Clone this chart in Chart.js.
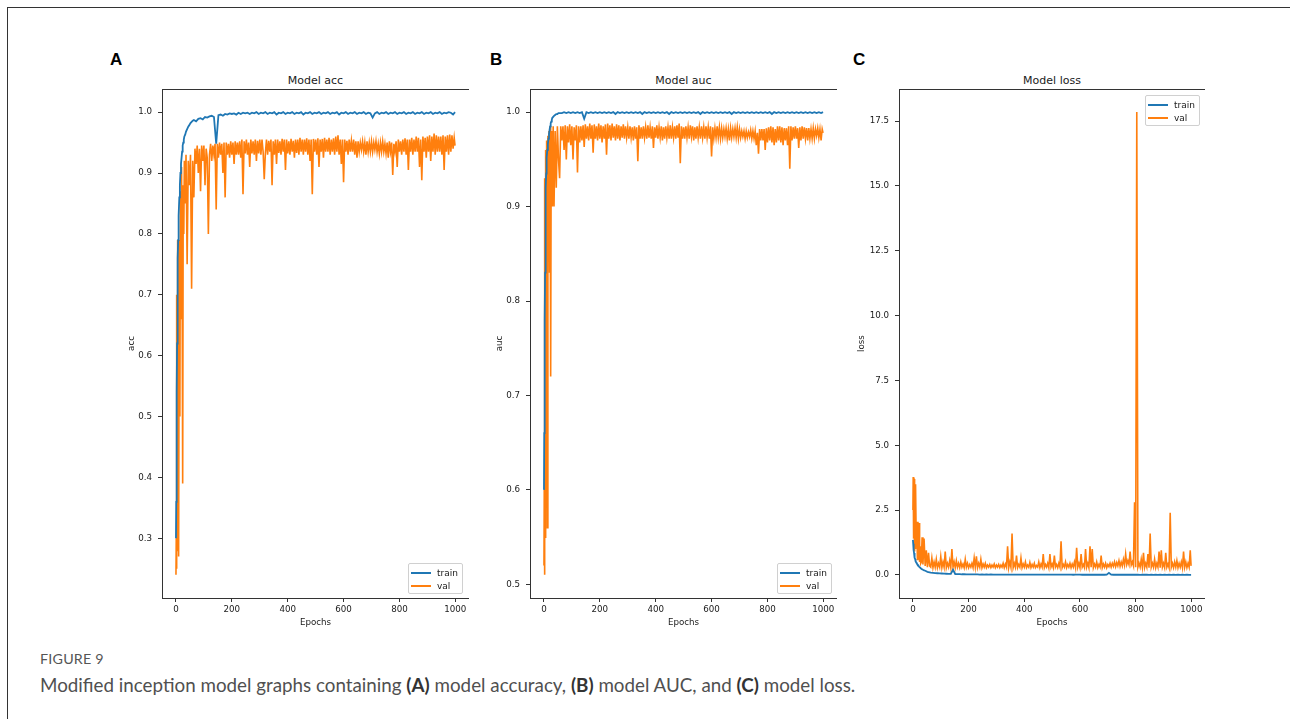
<!DOCTYPE html>
<html>
<head>
<meta charset="utf-8">
<script src="https://cdn.jsdelivr.net/npm/chart.js@4.4.1/dist/chart.umd.min.js"></script>
<style>
  html, body { margin: 0; padding: 0; background: #fff; }
  body { width: 1290px; height: 719px; position: relative; overflow: hidden; }
  .frame { position: absolute; left: 7px; top: 7px; width: 1290px; height: 720px; border-top: 1px solid #333; border-left: 1px solid #333; }
  .panel { position: absolute; top: 89px; height: 541px; }
  .letter { position: absolute; top: 51px; font: bold 17px "Liberation Sans", Arial, sans-serif; line-height: 17px; color: #000; }
  .title { position: absolute; top: 74px; height: 14px; line-height: 14px; text-align: center; font: 11px "DejaVu Sans", sans-serif; color: #1a1a1a; }
  .legend { position: absolute; width: 55px; height: 31px; box-sizing: border-box; border: 1px solid #d0d0d0; border-radius: 2px; background: rgba(255,255,255,0.85); font: 9px "DejaVu Sans", sans-serif; color: #1a1a1a; padding: 2px 0 0 2px; }
  .legend .row { height: 13.3px; display: flex; align-items: center; }
  .legend .sw { display: inline-block; width: 20px; height: 2px; margin-right: 6px; }
  .fig { position: absolute; left: 40px; top: 650px; font: 14.3px Lato, "Open Sans", sans-serif; color: #555; letter-spacing: 0.2px; }
  .caption { position: absolute; left: 40px; top: 673px; font: 18.8px Lato, "Open Sans", sans-serif; color: #505050; }
  .caption b { color: #333; }
</style>
</head>
<body>
<div class="frame"></div>

<div class="letter" style="left:110px">A</div>
<div class="letter" style="left:490px">B</div>
<div class="letter" style="left:853px">C</div>

<div class="title" style="left:162px;width:307px">Model acc</div>
<div class="title" style="left:530px;width:307px">Model auc</div>
<div class="title" style="left:899px;width:306px">Model loss</div>

<div class="panel" style="left:100px;width:369px"><canvas id="accChart"></canvas></div>
<div class="panel" style="left:468px;width:369px"><canvas id="aucChart"></canvas></div>
<div class="panel" style="left:837px;width:368px"><canvas id="lossChart"></canvas></div>

<div class="legend" style="left:408px;top:563px">
  <div class="row"><span class="sw" style="background:#1f77b4"></span>train</div>
  <div class="row"><span class="sw" style="background:#ff7f0e"></span>val</div>
</div>
<div class="legend" style="left:777px;top:563px">
  <div class="row"><span class="sw" style="background:#1f77b4"></span>train</div>
  <div class="row"><span class="sw" style="background:#ff7f0e"></span>val</div>
</div>
<div class="legend" style="left:1145px;top:95px">
  <div class="row"><span class="sw" style="background:#1f77b4"></span>train</div>
  <div class="row"><span class="sw" style="background:#ff7f0e"></span>val</div>
</div>

<div class="fig">FIGURE 9</div>
<div class="caption">Modified inception model graphs containing <b>(A)</b> model accuracy, <b>(B)</b> model AUC, and <b>(C)</b> model loss.</div>

<script>
// train curves: dense at the start, every 8 epochs after
const trainEpochs = [
  0, 1, 2, 3, 4, 5, 6, 7, 8, 9, 10,
  12, 14, 16, 18, 20, 22, 24, 26, 28, 30,
  33, 36, 40, 44, 48, 52, 56, 60,
  64, 72, 80, 88, 96, 104, 112, 120, 128, 136,
  144, 152, 160, 168, 176, 184, 192, 200, 208, 216,
  224, 232, 240, 248, 256, 264, 272, 280, 288, 296,
  304, 312, 320, 328, 336, 344, 352, 360, 368, 376,
  384, 392, 400, 408, 416, 424, 432, 440, 448, 456,
  464, 472, 480, 488, 496, 504, 512, 520, 528, 536,
  544, 552, 560, 568, 576, 584, 592, 600, 608, 616,
  624, 632, 640, 648, 656, 664, 672, 680, 688, 696,
  704, 712, 720, 728, 736, 744, 752, 760, 768, 776,
  784, 792, 800, 808, 816, 824, 832, 840, 848, 856,
  864, 872, 880, 888, 896, 904, 912, 920, 928, 936,
  944, 952, 960, 968, 976, 984, 992, 999
];

// val curves are noisier: every 4 epochs after the start
const valEpochs = [
  0, 1, 2, 3, 4, 5, 6, 7, 8, 9, 10,
  12, 14, 16, 18, 20, 22, 24, 26, 28, 30,
  33, 36, 40, 44, 48, 52, 56, 60,
  64, 68, 72, 76, 80, 84, 88, 92, 96, 100, 104, 108, 112, 116, 120, 124, 128, 132, 136, 140,
  144, 148, 152, 156, 160, 164, 168, 172, 176, 180, 184, 188, 192, 196, 200, 204, 208, 212, 216, 220,
  224, 228, 232, 236, 240, 244, 248, 252, 256, 260, 264, 268, 272, 276, 280, 284, 288, 292, 296, 300,
  304, 308, 312, 316, 320, 324, 328, 332, 336, 340, 344, 348, 352, 356, 360, 364, 368, 372, 376, 380,
  384, 388, 392, 396, 400, 404, 408, 412, 416, 420, 424, 428, 432, 436, 440, 444, 448, 452, 456, 460,
  464, 468, 472, 476, 480, 484, 488, 492, 496, 500, 504, 508, 512, 516, 520, 524, 528, 532, 536, 540,
  544, 548, 552, 556, 560, 564, 568, 572, 576, 580, 584, 588, 592, 596, 600, 604, 608, 612, 616, 620,
  624, 628, 632, 636, 640, 644, 648, 652, 656, 660, 664, 668, 672, 676, 680, 684, 688, 692, 696, 700,
  704, 708, 712, 716, 720, 724, 728, 732, 736, 740, 744, 748, 752, 756, 760, 764, 768, 772, 776, 780,
  784, 788, 792, 796, 800, 804, 808, 812, 816, 820, 824, 828, 832, 836, 840, 844, 848, 852, 856, 860,
  864, 868, 872, 876, 880, 884, 888, 892, 896, 900, 904, 908, 912, 916, 920, 924, 928, 932, 936, 940,
  944, 948, 952, 956, 960, 964, 968, 972, 976, 980, 984, 988, 992, 996, 999
];

const accTrain = [
  0.30, 0.36, 0.45, 0.54, 0.62, 0.68, 0.73, 0.76, 0.79, 0.81, 0.83,
  0.86, 0.88, 0.90, 0.915, 0.925, 0.935, 0.945, 0.95, 0.955, 0.96,
  0.963, 0.968, 0.972, 0.976, 0.979, 0.982, 0.984, 0.986,
  0.987, 0.985, 0.989, 0.99, 0.988, 0.992, 0.991, 0.993, 0.994, 0.992,
  0.948, 0.995, 0.996, 0.994, 0.997, 0.996, 0.998, 0.997, 0.998, 0.996,
  0.999, 0.997, 0.999, 0.998, 0.999, 0.997, 0.999, 0.998, 1.0, 0.997,
  0.999, 0.998, 1.0, 0.997, 0.999, 0.998, 1.0, 0.996, 0.999, 0.998,
  1.0, 0.997, 0.999, 0.998, 1.0, 0.997, 0.999, 0.998, 1.0, 0.996,
  0.999, 0.998, 1.0, 0.997, 0.999, 0.998, 1.0, 0.997, 0.999, 0.998,
  1.0, 0.997, 0.999, 0.998, 1.0, 0.996, 0.999, 0.998, 1.0, 0.997,
  0.999, 0.998, 1.0, 0.997, 0.999, 0.998, 1.0, 0.997, 0.999, 0.998,
  0.991, 0.998, 1.0, 0.997, 0.999, 0.998, 1.0, 0.997, 0.999, 0.998,
  1.0, 0.997, 0.999, 0.998, 1.0, 0.997, 0.999, 0.998, 1.0, 0.997,
  0.999, 0.998, 1.0, 0.997, 0.999, 0.998, 1.0, 0.997, 0.999, 0.998,
  1.0, 0.997, 0.999, 0.998, 1.0, 0.999, 0.996, 1.0
];
const accVal = [
  0.24, 0.30, 0.25, 0.70, 0.28, 0.62, 0.79, 0.55, 0.77, 0.66, 0.27,
  0.79, 0.50, 0.87, 0.66, 0.91, 0.74, 0.39, 0.88, 0.80, 0.92,
  0.85, 0.93, 0.75, 0.92, 0.88, 0.93, 0.71, 0.92,
  0.86, 0.94, 0.915, 0.945, 0.90, 0.94, 0.87, 0.945, 0.92, 0.945, 0.88, 0.94, 0.925, 0.80, 0.93, 0.948, 0.92, 0.945, 0.93, 0.948,
  0.84, 0.948, 0.925, 0.95, 0.93, 0.948, 0.90, 0.95, 0.86, 0.95, 0.93, 0.948, 0.925, 0.952, 0.93, 0.95, 0.915, 0.952, 0.93, 0.95,
  0.93, 0.952, 0.925, 0.955, 0.865, 0.952, 0.932, 0.955, 0.93, 0.95, 0.91, 0.955, 0.932, 0.952, 0.93, 0.955, 0.92, 0.953, 0.932, 0.955,
  0.93, 0.955, 0.935, 0.89, 0.932, 0.955, 0.93, 0.953, 0.935, 0.955, 0.88, 0.952, 0.93, 0.955, 0.915, 0.955, 0.933, 0.952, 0.93, 0.956,
  0.935, 0.955, 0.905, 0.955, 0.932, 0.952, 0.93, 0.956, 0.935, 0.953, 0.925, 0.955, 0.933, 0.955, 0.93, 0.958, 0.935, 0.955, 0.93, 0.955,
  0.935, 0.957, 0.93, 0.955, 0.92, 0.955, 0.865, 0.956, 0.935, 0.955, 0.93, 0.957, 0.91, 0.955, 0.935, 0.956, 0.925, 0.958, 0.935, 0.955,
  0.935, 0.958, 0.93, 0.955, 0.935, 0.957, 0.93, 0.96, 0.935, 0.962, 0.93, 0.955, 0.915, 0.955, 0.885, 0.955, 0.935, 0.953, 0.93, 0.955,
  0.935, 0.953, 0.935, 0.955, 0.93, 0.952, 0.925, 0.952, 0.935, 0.95, 0.938, 0.952, 0.935, 0.95, 0.93, 0.952, 0.935, 0.95, 0.935, 0.952,
  0.935, 0.95, 0.938, 0.952, 0.935, 0.948, 0.932, 0.95, 0.935, 0.952, 0.935, 0.948, 0.932, 0.95, 0.925, 0.952, 0.935, 0.95, 0.897, 0.948,
  0.935, 0.952, 0.91, 0.955, 0.935, 0.952, 0.93, 0.955, 0.935, 0.957, 0.93, 0.955, 0.905, 0.955, 0.935, 0.958, 0.93, 0.955, 0.935, 0.96,
  0.935, 0.958, 0.91, 0.955, 0.888, 0.96, 0.935, 0.958, 0.925, 0.96, 0.935, 0.962, 0.92, 0.96, 0.935, 0.965, 0.93, 0.962, 0.935, 0.96,
  0.935, 0.96, 0.93, 0.962, 0.905, 0.96, 0.935, 0.962, 0.93, 0.963, 0.935, 0.962, 0.94, 0.958, 0.945
];

const aucTrain = [
  0.60, 0.66, 0.72, 0.78, 0.83, 0.87, 0.90, 0.92, 0.935, 0.945, 0.952,
  0.96, 0.966, 0.972, 0.977, 0.981, 0.985, 0.988, 0.99, 0.992, 0.994,
  0.995, 0.996, 0.997, 0.998, 0.998, 0.999, 0.999, 0.999,
  0.999, 1.0, 0.999, 1.0, 0.999, 1.0, 0.999, 1.0, 0.999, 1.0,
  0.993, 1.0, 0.999, 1.0, 0.999, 1.0, 0.999, 1.0, 0.999, 1.0,
  0.999, 1.0, 0.999, 1.0, 0.998, 1.0, 0.999, 1.0, 0.999, 1.0,
  0.999, 1.0, 0.999, 1.0, 0.999, 1.0, 0.998, 1.0, 0.999, 1.0,
  0.999, 1.0, 0.999, 1.0, 0.999, 1.0, 0.999, 1.0, 0.998, 1.0,
  0.999, 1.0, 0.999, 1.0, 0.999, 1.0, 0.999, 1.0, 0.999, 1.0,
  0.999, 1.0, 0.998, 1.0, 0.999, 1.0, 0.999, 1.0, 0.999, 1.0,
  0.999, 1.0, 0.999, 1.0, 0.999, 1.0, 0.998, 1.0, 0.999, 1.0,
  0.999, 1.0, 0.999, 1.0, 0.999, 1.0, 0.999, 1.0, 0.999, 1.0,
  0.999, 1.0, 0.999, 1.0, 0.998, 1.0, 0.999, 1.0, 0.999, 1.0,
  0.999, 1.0, 0.999, 1.0, 0.999, 1.0, 0.999, 1.0, 0.999, 1.0,
  0.999, 1.0, 0.999, 1.0, 0.999, 1.0, 0.999, 1.0
];
const aucVal = [
  0.52, 0.60, 0.51, 0.93, 0.55, 0.96, 0.62, 0.95, 0.92, 0.97, 0.93,
  0.56, 0.975, 0.95, 0.98, 0.83, 0.985, 0.72, 0.98, 0.93, 0.90,
  0.985, 0.90, 0.98, 0.92, 0.985, 0.95, 0.93, 0.985,
  0.97, 0.985, 0.96, 0.986, 0.95, 0.985, 0.968, 0.987, 0.965, 0.985, 0.95, 0.984, 0.97, 0.986, 0.936, 0.985, 0.968, 0.985, 0.97, 0.986,
  0.963, 0.987, 0.972, 0.985, 0.97, 0.988, 0.972, 0.986, 0.957, 0.987, 0.972, 0.985, 0.97, 0.988, 0.972, 0.986, 0.968, 0.985, 0.972, 0.987,
  0.955, 0.988, 0.972, 0.986, 0.97, 0.988, 0.973, 0.985, 0.97, 0.987, 0.972, 0.986, 0.97, 0.985, 0.973, 0.987, 0.972, 0.985, 0.973, 0.984,
  0.972, 0.985, 0.973, 0.984, 0.97, 0.985, 0.972, 0.984, 0.948, 0.986, 0.972, 0.984, 0.972, 0.985, 0.973, 0.984, 0.972, 0.986, 0.973, 0.984,
  0.972, 0.985, 0.962, 0.984, 0.973, 0.986, 0.972, 0.984, 0.973, 0.985, 0.97, 0.984, 0.972, 0.985, 0.973, 0.984, 0.972, 0.986, 0.972, 0.984,
  0.973, 0.985, 0.972, 0.986, 0.973, 0.988, 0.946, 0.985, 0.972, 0.984, 0.972, 0.985, 0.973, 0.984, 0.972, 0.986, 0.974, 0.985, 0.97, 0.984,
  0.972, 0.985, 0.973, 0.984, 0.972, 0.985, 0.973, 0.984, 0.972, 0.985, 0.973, 0.984, 0.972, 0.985, 0.953, 0.984, 0.972, 0.983, 0.973, 0.985,
  0.973, 0.984, 0.972, 0.983, 0.973, 0.982, 0.974, 0.983, 0.972, 0.982, 0.97, 0.983, 0.973, 0.982, 0.974, 0.983, 0.973, 0.984, 0.972, 0.982,
  0.973, 0.98, 0.974, 0.98, 0.972, 0.98, 0.973, 0.979, 0.974, 0.981, 0.972, 0.98, 0.972, 0.98, 0.965, 0.978, 0.956, 0.982, 0.97, 0.982,
  0.97, 0.982, 0.96, 0.983, 0.968, 0.984, 0.97, 0.985, 0.968, 0.984, 0.965, 0.982, 0.968, 0.985, 0.97, 0.985, 0.968, 0.984, 0.965, 0.983,
  0.97, 0.983, 0.965, 0.985, 0.94, 0.985, 0.97, 0.984, 0.972, 0.985, 0.972, 0.983, 0.962, 0.984, 0.97, 0.985, 0.972, 0.984, 0.972, 0.983,
  0.97, 0.983, 0.972, 0.982, 0.972, 0.983, 0.972, 0.982, 0.975, 0.983, 0.973, 0.982, 0.97, 0.982, 0.978
];

const lossTrain = [
  1.35, 1.2, 1.05, 0.95, 0.85, 0.78, 0.72, 0.66, 0.61, 0.57, 0.53,
  0.48, 0.44, 0.41, 0.38, 0.35, 0.32, 0.30, 0.28, 0.26, 0.24,
  0.22, 0.20, 0.18, 0.16, 0.14, 0.12, 0.11, 0.10,
  0.09, 0.08, 0.07, 0.065, 0.06, 0.055, 0.05, 0.045, 0.04, 0.04,
  0.2, 0.035, 0.03, 0.03, 0.025, 0.025, 0.02, 0.02, 0.02, 0.02,
  0.018, 0.02, 0.015, 0.018, 0.015, 0.017, 0.014, 0.016, 0.013, 0.015,
  0.013, 0.015, 0.012, 0.014, 0.012, 0.013, 0.011, 0.013, 0.011, 0.012,
  0.01, 0.012, 0.01, 0.011, 0.01, 0.012, 0.009, 0.011, 0.009, 0.01,
  0.009, 0.011, 0.009, 0.01, 0.008, 0.01, 0.008, 0.01, 0.008, 0.009,
  0.008, 0.01, 0.008, 0.009, 0.007, 0.009, 0.008, 0.009, 0.007, 0.009,
  0.007, 0.008, 0.007, 0.009, 0.007, 0.008, 0.006, 0.008, 0.007, 0.008,
  0.08, 0.008, 0.006, 0.008, 0.006, 0.007, 0.006, 0.008, 0.006, 0.007,
  0.006, 0.007, 0.006, 0.007, 0.005, 0.007, 0.006, 0.007, 0.005, 0.007,
  0.005, 0.006, 0.005, 0.007, 0.005, 0.006, 0.005, 0.006, 0.005, 0.006,
  0.005, 0.006, 0.005, 0.006, 0.004, 0.006, 0.005, 0.005
];
const lossVal = [
  2.5, 3.78, 1.4, 3.75, 3.7, 1.3, 3.6, 0.9, 3.5, 1.0, 3.45,
  1.2, 2.05, 0.6, 2.05, 0.8, 2.0, 0.5, 1.1, 0.45, 0.5,
  1.45, 0.4, 1.4, 0.35, 0.95, 0.3, 0.85, 0.35,
  0.3, 0.65, 0.28, 0.5, 0.3, 0.6, 0.28, 0.45, 0.3, 0.7, 0.28, 0.5, 0.3, 0.9, 0.28, 0.45, 0.3, 0.55, 0.28, 1.0,
  0.3, 0.5, 0.28, 0.55, 0.3, 0.45, 0.28, 0.5, 0.3, 0.42, 0.28, 0.6, 0.3, 0.45, 0.28, 0.4, 0.3, 0.45, 0.28, 0.65,
  0.3, 0.72, 0.28, 0.45, 0.3, 0.6, 0.28, 0.42, 0.3, 0.45, 0.28, 0.38, 0.3, 0.4, 0.28, 0.38, 0.3, 0.42, 0.28, 0.38,
  0.3, 0.4, 0.28, 0.38, 0.3, 0.45, 0.28, 0.42, 0.3, 1.1, 0.28, 0.5, 0.3, 1.6, 0.28, 0.45, 0.3, 0.75, 0.28, 0.4,
  0.3, 0.65, 0.28, 0.42, 0.3, 0.5, 0.28, 0.38, 0.3, 0.48, 0.28, 0.4, 0.3, 0.45, 0.28, 0.36, 0.3, 0.5, 0.28, 0.42,
  0.3, 0.8, 0.28, 0.4, 0.3, 0.45, 0.28, 0.8, 0.3, 0.42, 0.28, 0.75, 0.3, 0.4, 0.28, 0.45, 0.3, 1.3, 0.28, 0.4,
  0.3, 0.5, 0.28, 0.4, 0.3, 0.45, 0.28, 0.42, 0.3, 0.5, 0.28, 1.05, 0.3, 0.45, 0.28, 0.8, 0.3, 0.4, 0.28, 1.0,
  0.3, 0.45, 0.28, 1.1, 0.3, 1.0, 0.28, 0.42, 0.3, 0.5, 0.28, 0.4, 0.3, 0.75, 0.28, 0.42, 0.3, 0.45, 0.28, 0.4,
  0.32, 0.45, 0.3, 0.45, 0.33, 0.5, 0.32, 0.48, 0.35, 0.55, 0.33, 0.5, 0.35, 0.6, 0.38, 0.8, 0.4, 0.55, 0.4, 0.9,
  0.38, 0.5, 0.35, 2.8, 0.3, 17.85, 0.3, 0.45, 0.3, 0.6, 0.3, 0.85, 0.28, 0.45, 0.3, 0.8, 0.28, 1.6, 0.3, 0.45,
  0.3, 0.6, 0.28, 0.45, 0.3, 0.9, 0.28, 0.95, 0.3, 0.45, 0.28, 0.85, 0.3, 0.42, 0.28, 2.4, 0.3, 0.45, 0.28, 0.5,
  0.3, 0.55, 0.28, 0.45, 0.3, 0.5, 0.28, 0.9, 0.3, 0.5, 0.28, 0.45, 0.3, 0.95, 0.35
];

// tick labels
const epochTicks = [0, 200, 400, 600, 800, 1000];
const accTicks = [0.3, 0.4, 0.5, 0.6, 0.7, 0.8, 0.9, 1.0];
const aucTicks = [0.5, 0.6, 0.7, 0.8, 0.9, 1.0];
const lossTicks = [0.0, 2.5, 5.0, 7.5, 10.0, 12.5, 15.0, 17.5];

const BLUE = '#1f77b4';
const ORANGE = '#ff7f0e';
const INK = '#333';
const TEXT = '#1a1a1a';
const FONT = '"DejaVu Sans", sans-serif';

// matplotlib draws a box around every axes
const spines = {
  id: 'spines',
  afterDraw(chart) {
    const { ctx, chartArea: a } = chart;
    ctx.save();
    ctx.strokeStyle = INK;
    ctx.lineWidth = 1;
    ctx.strokeRect(Math.round(a.left) + 0.5, Math.round(a.top) + 0.5,
      Math.round(a.right - a.left), Math.round(a.bottom - a.top));
    ctx.restore();
  }
};

function points(xs, ys) {
  return xs.map((x, i) => ({ x: x, y: ys[i] }));
}

function makeChart(id, cfg) {
  return new Chart(document.getElementById(id), {
    type: 'line',
    data: {
      datasets: [
        { label: 'train', data: points(trainEpochs, cfg.train), borderColor: BLUE, borderWidth: 1.8 },
        { label: 'val', data: points(valEpochs, cfg.val), borderColor: ORANGE, borderWidth: 1.6 }
      ]
    },
    options: {
      responsive: true,
      maintainAspectRatio: false,
      animation: false,
      events: [],
      layout: { padding: 0 },
      elements: { point: { radius: 0 }, line: { tension: 0 } },
      plugins: {
        legend: { display: false },
        tooltip: { enabled: false },
        title: { display: false }
      },
      scales: {
        x: {
          type: 'linear',
          min: -50,
          max: 1049,
          afterFit: s => { s.height = 32; s.paddingLeft = 0; s.paddingRight = 0; },
          afterBuildTicks: s => { s.ticks = epochTicks.map(v => ({ value: v })); },
          border: { display: false },
          grid: { drawOnChartArea: false, drawTicks: true, tickLength: 4, color: INK },
          ticks: { color: TEXT, padding: 3, maxRotation: 0, font: { family: FONT, size: 8.7 }, callback: v => String(v) },
          title: { display: true, text: 'Epochs', color: TEXT, font: { family: FONT, size: 8.7 }, padding: { top: 0, bottom: 2 } }
        },
        y: {
          type: 'linear',
          min: cfg.min,
          max: cfg.max,
          afterFit: s => { s.width = 62; s.paddingTop = 0; s.paddingBottom = 0; },
          afterBuildTicks: s => { s.ticks = cfg.ticks.map(v => ({ value: v })); },
          border: { display: false },
          grid: { drawOnChartArea: false, drawTicks: true, tickLength: 4, color: INK },
          ticks: { color: TEXT, padding: 6, font: { family: FONT, size: 8.7 }, callback: v => v.toFixed(1) },
          title: { display: true, text: cfg.ylabel, color: TEXT, font: { family: FONT, size: 8.7 }, padding: { top: cfg.labelGap, bottom: 0 } }
        }
      }
    },
    plugins: [spines]
  });
}

makeChart('accChart', { ylabel: 'acc', train: accTrain, val: accVal,
  ticks: accTicks, min: 0.202, max: 1.038, labelGap: 26.5 });
makeChart('aucChart', { ylabel: 'auc', train: aucTrain, val: aucVal,
  ticks: aucTicks, min: 0.4855, max: 1.0245, labelGap: 27 });
makeChart('lossChart', { ylabel: 'loss', train: lossTrain, val: lossVal,
  ticks: lossTicks, min: -0.89, max: 18.74, labelGap: 19.5 });
</script>
</body>
</html>
